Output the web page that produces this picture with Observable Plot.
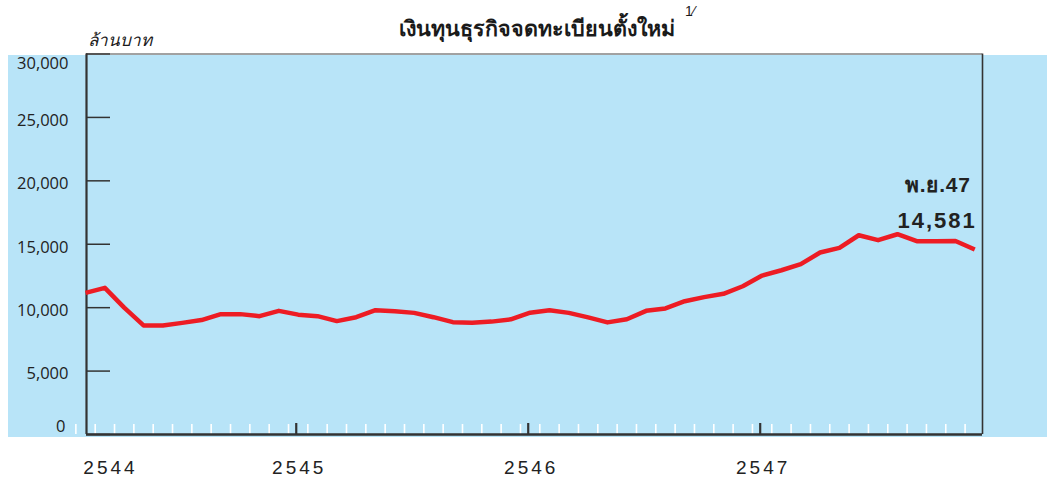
<!DOCTYPE html>
<html>
<head>
<meta charset="utf-8">
<script src="https://cdn.jsdelivr.net/npm/d3@7"></script>
<script src="https://cdn.jsdelivr.net/npm/@observablehq/plot@0.6"></script>
<style>
  html, body { margin: 0; padding: 0; background: #ffffff; }
  #wrap { position: relative; width: 1047px; height: 479px; overflow: hidden; background: #ffffff; }
  #bg { position: absolute; left: 8px; top: 55px; width: 1039px; height: 382px; background: #b8e4f8; }
  #title { position: absolute; left: 0; top: 13px; width: 1074px; text-align: center;
           font-family: "Noto Sans", "DejaVu Sans", sans-serif; font-weight: bold; font-size: 21.5px; color: #1a1a1a; line-height: 30px; }
  #title .t { position: relative; }
  #title sup { position: absolute; right: -20px; top: -9px; font-size: 14px; font-weight: normal; font-style: normal; font-family: "Liberation Sans", sans-serif; line-height: 14px; }
  #unit { position: absolute; left: 88px; top: 30px; font-family: "Noto Sans", "DejaVu Sans", sans-serif; font-style: italic; font-size: 17px; color: #1a1a1a; line-height: 20px; }
  #chart { position: absolute; left: 0; top: 45px; }
</style>
</head>
<body>
<div id="wrap">
  <div id="bg"></div>
  <div id="title"><span class="t">เงินทุนธุรกิจจดทะเบียนตั้งใหม่<sup>1⁄</sup></span></div>
  <div id="unit">ล้านบาท</div>
  <div id="chart"></div>
</div>
<script>
// Categories: months Jan 2544 (B.E.) to Nov 2547
const monthNames = ["ม.ค.","ก.พ.","มี.ค.","เม.ย.","พ.ค.","มิ.ย.","ก.ค.","ส.ค.","ก.ย.","ต.ค.","พ.ย.","ธ.ค."];
const yearsShort = ["44","45","46","47"];
const months = yearsShort.flatMap(y => monthNames.map(m => m + y)).slice(0, 47);

// Newly registered business capital, million baht
const values = [
  11170, 11560, 10000, 8600, 8600, 8800, 9020, 9490, 9490, 9330, 9750, 9450,
  9330, 8940, 9250, 9800, 9720, 9590, 9250, 8860, 8820, 8900, 9080, 9600,
  9800, 9590, 9230, 8840, 9090, 9750, 9940, 10510, 10830, 11090, 11690, 12530,
  12950, 13430, 14350, 14710, 15710, 15320, 15790, 15240, 15240, 15260, 14581
];

const yTicks = [0, 5000, 10000, 15000, 20000, 25000, 30000];
const yearLabels = ["2544", "2545", "2546", "2547"];

const data = months.map((m, i) => ({i, month: m, value: values[i]}));
const xDomain = [0.05, 46.4];
const fmt = d3.format(",");
const yearPos = y => months.indexOf("ม.ค." + y.slice(2)) - 1.1;

const W = 1047, H = 434, ML = 86, MR = 65, MT = 8.5, MB = 45;
const plotW = W - ML - MR, plotH = H - MT - MB;

const chart = Plot.plot({
  width: W, height: H,
  marginLeft: ML, marginRight: MR, marginTop: MT, marginBottom: MB,
  x: {domain: xDomain, axis: null},
  y: {domain: [0, 30000], axis: null},
  style: {background: "transparent", overflow: "visible", color: "#222"},
  marks: [
    // month ticks (white) and year ticks (dark)
    Plot.tickX(months, {x: (d, i) => i - 0.5, stroke: "#ffffff", strokeWidth: 1.6, insetTop: plotH - 10}),
    Plot.tickX(yearLabels.slice(1), {x: yearPos, stroke: "#333", strokeWidth: 2.2, insetTop: plotH - 11}),
    // y ticks, inward
    Plot.tickY(yTicks, {y: d => d, stroke: "#333", strokeWidth: 1.5, insetRight: plotW - 24}),
    // frame
    Plot.ruleY([30000], {stroke: "#444", strokeWidth: 1}),
    Plot.ruleX([xDomain[1]], {stroke: "#333", strokeWidth: 1.6}),
    Plot.ruleX([xDomain[0]], {stroke: "#333", strokeWidth: 2.2}),
    Plot.ruleY([0], {stroke: "#333", strokeWidth: 2.6}),
    // series
    Plot.line(data, {x: "i", y: "value", stroke: "#ed1c24", strokeWidth: 4.5, strokeLinejoin: "round", strokeLinecap: "butt"}),
    // annotation of last value
    Plot.text(data.slice(-1), {x: "i", y: "value", text: d => fmt(d.value), textAnchor: "end", dx: 2, dy: -29,
      fontSize: 22, fontWeight: "bold", fontFamily: "Liberation Sans, Arial, sans-serif", fill: "#222"}),
    Plot.text(data.slice(-1), {x: "i", y: "value", text: "month", textAnchor: "end", dx: -4, dy: -64,
      fontSize: 21, fontWeight: "bold", fontFamily: "Liberation Sans, Arial, sans-serif", fill: "#222"}),
    // y labels
    Plot.text(yTicks.filter(v => v > 0 && v < 30000), {y: d => d, text: d => fmt(d), frameAnchor: "left", dx: -18, dy: 3,
      textAnchor: "end", fontSize: 16.5, fontFamily: "Open Sans, sans-serif", fill: "#222"}),
    Plot.text(yTicks.filter(v => v === 30000), {y: d => d, text: d => fmt(d), frameAnchor: "left", dx: -18, dy: 10,
      textAnchor: "end", fontSize: 16.5, fontFamily: "Open Sans, sans-serif", fill: "#222"}),
    Plot.text(yTicks.filter(v => v === 0), {y: d => d, text: d => fmt(d), frameAnchor: "left", dx: -21, dy: -8,
      textAnchor: "end", fontSize: 16.5, fontFamily: "Open Sans, sans-serif", fill: "#222"}),
    // year labels
    Plot.text(yearLabels.slice(1), {x: yearPos, text: d => d, frameAnchor: "bottom", dx: 3, dy: 33, lineAnchor: "middle",
      fontSize: 19, fontFamily: "Liberation Sans, Arial, sans-serif", fill: "#222"}),
    Plot.text(yearLabels.slice(0, 1), {text: d => d, frameAnchor: "bottom-left", dx: 24, dy: 33, lineAnchor: "middle",
      textAnchor: "middle", fontSize: 19, fontFamily: "Liberation Sans, Arial, sans-serif", fill: "#222"})
  ]
});
// letter spacing for the wide-set labels
d3.select(chart).selectAll("text").each(function() {
  const t = this.textContent;
  if (yearLabels.includes(t)) this.setAttribute("letter-spacing", "3px");
  else if (t === fmt(values[values.length - 1])) this.setAttribute("letter-spacing", "2px");
  else if (t === months[months.length - 1]) this.setAttribute("letter-spacing", "0.8px");
});
document.getElementById("chart").appendChild(chart);
</script>
</body>
</html>
